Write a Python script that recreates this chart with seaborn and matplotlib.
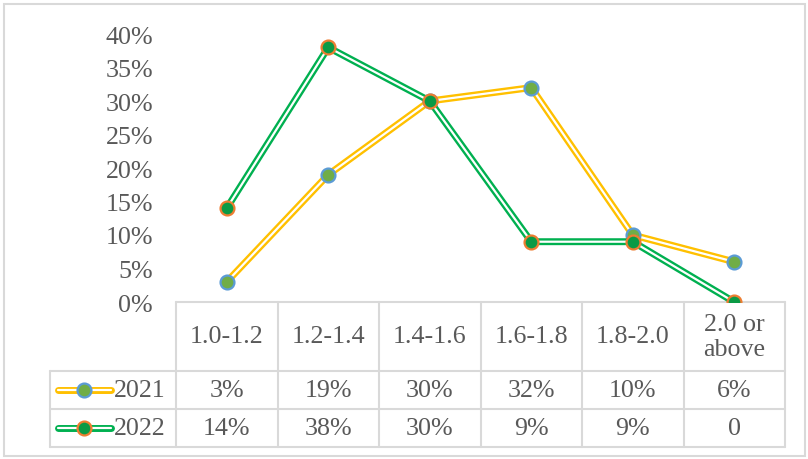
import numpy as np
import pandas as pd
import matplotlib
matplotlib.use('Agg')
import matplotlib.pyplot as plt
import seaborn as sns
from matplotlib.lines import Line2D
from matplotlib.patches import Rectangle

# Données
categories = ['1.0-1.2', '1.2-1.4', '1.4-1.6', '1.6-1.8', '1.8-2.0', '2.0 or\nabove']
years = ['2021', '2022']
vals_2021 = [0.03, 0.19, 0.30, 0.32, 0.10, 0.06]
vals_2022 = [0.14, 0.38, 0.30, 0.09, 0.09, 0.0]
labels_2021 = ['3%', '19%', '30%', '32%', '10%', '6%']
labels_2022 = ['14%', '38%', '30%', '9%', '9%', '0']
yticks = [0, 0.05, 0.10, 0.15, 0.20, 0.25, 0.30, 0.35, 0.40]

line_colors = {'2021': '#FFC000', '2022': '#00B050'}
face_colors = {'2021': '#70AD47', '2022': '#0A9A45'}
edge_colors = {'2021': '#5B9BD5', '2022': '#ED7D31'}
txt = '#595959'
grid = '#D9D9D9'
fs = 18.7

sns.set_style('white')
plt.rcParams['font.family'] = ['Liberation Serif', 'DejaVu Serif']

W, H = 808, 460
fig = plt.figure(figsize=(W / 100, H / 100), dpi=100)
ax = fig.add_axes([176 / W, (H - 303) / H, 609 / W, 268 / H])

df = pd.DataFrame({'pos': list(range(6)) * 2,
                   'val': vals_2021 + vals_2022,
                   'year': ['2021'] * 6 + ['2022'] * 6})

z = 2
for yr in years:
    d = df[df['year'] == yr]
    sns.lineplot(data=d, x='pos', y='val', color=line_colors[yr], lw=5.0, ax=ax,
                 zorder=z, solid_joinstyle='miter')
    sns.lineplot(data=d, x='pos', y='val', color='white', lw=1.6, ax=ax,
                 zorder=z + 0.1, solid_joinstyle='miter')
    sns.lineplot(data=d, x='pos', y='val', color='none', lw=0, marker='o',
                 markersize=10, markerfacecolor=face_colors[yr],
                 markeredgecolor=edge_colors[yr], markeredgewidth=1.6,
                 ax=ax, zorder=z + 0.2)
    z += 1

ax.set_xlim(-0.5, 5.5)
ax.set_ylim(0, 0.40)
ax.set_yticks(yticks)
ax.set_yticklabels([f'{int(round(t * 100))}%' for t in yticks])
ax.tick_params(axis='y', length=0, pad=16.5, labelsize=fs, labelcolor=txt)
ax.set_xticks([])
ax.set_xlabel('')
ax.set_ylabel('')
for s in ax.spines.values():
    s.set_visible(False)

# Table de données sous le graphique
n = len(categories)
edges = np.arange(n + 1) / n
centers = (edges[:-1] + edges[1:]) / 2
y_top, y_r1, y_r2, y_bot = 0.0, -69 / 268, -107 / 268, -145 / 268
x_leg = (50 - 176) / 609

kw = dict(transform=ax.transAxes, color=grid, lw=1.5, clip_on=False, zorder=1)
for yy in [y_top, y_r1, y_r2, y_bot]:
    x0 = 0 if yy == y_top else x_leg
    ax.add_line(Line2D([x0, 1], [yy, yy], **kw))
for xx in edges:
    ax.add_line(Line2D([xx, xx], [y_top, y_bot], **kw))
ax.add_line(Line2D([x_leg, x_leg], [y_r1, y_bot], **kw))

for i, c in enumerate(categories):
    ax.text(centers[i], (y_top + y_r1) / 2, c, transform=ax.transAxes, ha='center',
            va='center', fontsize=fs, color=txt, linespacing=1.12)
for row_y, labs in [((y_r1 + y_r2) / 2, labels_2021), ((y_r2 + y_bot) / 2, labels_2022)]:
    for i, l in enumerate(labs):
        ax.text(centers[i], row_y, l, transform=ax.transAxes, ha='center',
                va='center', fontsize=fs, color=txt)

# Légende dans la table
for yr, row_y in [('2021', (y_r1 + y_r2) / 2), ('2022', (y_r2 + y_bot) / 2)]:
    xs = [(58 - 176) / 609, (111 - 176) / 609]
    for col, lw in [(line_colors[yr], 5.0), ('white', 1.6)]:
        ax.add_line(Line2D(xs, [row_y, row_y], transform=ax.transAxes, color=col,
                           lw=lw, clip_on=False, solid_capstyle='round'))
    ax.add_line(Line2D([(84 - 176) / 609], [row_y], transform=ax.transAxes, lw=0,
                       marker='o', markersize=10, markerfacecolor=face_colors[yr],
                       markeredgecolor=edge_colors[yr], markeredgewidth=1.6,
                       clip_on=False))
    ax.text((114 - 176) / 609, row_y, yr, transform=ax.transAxes, ha='left',
            va='center', fontsize=fs, color=txt)

# Bordure extérieure
fig.patches.append(Rectangle((4 / W, (H - 457) / H), 801 / W, 452 / H,
                             transform=fig.transFigure, fill=False,
                             edgecolor=grid, lw=1.5))

fig.savefig('out.png', dpi=100)
